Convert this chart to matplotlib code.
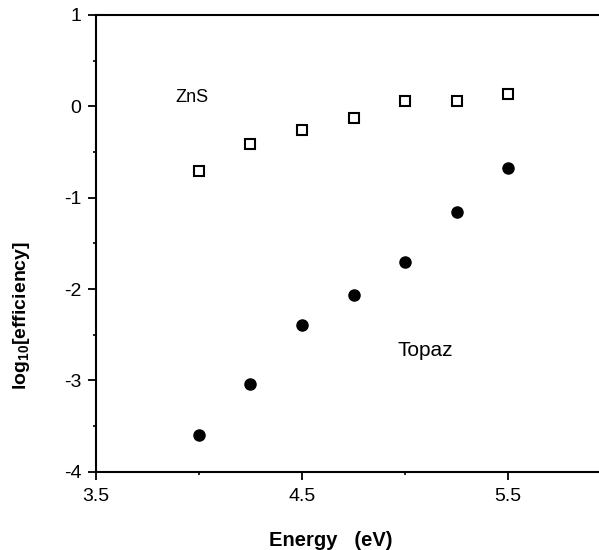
import numpy as np
import matplotlib
matplotlib.use("Agg")
import matplotlib.pyplot as plt
from matplotlib.ticker import MultipleLocator

plt.rcParams["font.family"] = ["Liberation Sans", "DejaVu Sans"]
plt.rcParams["axes.unicode_minus"] = False
plt.rcParams["mathtext.fontset"] = "custom"
plt.rcParams["mathtext.rm"] = "Liberation Sans"
plt.rcParams["mathtext.bf"] = "Liberation Sans:bold"

# ---- data ----
energy = [4.0, 4.25, 4.5, 4.75, 5.0, 5.25, 5.5]
zns = [-0.71, -0.41, -0.26, -0.13, 0.06, 0.06, 0.13]
topaz = [-3.60, -3.04, -2.39, -2.06, -1.70, -1.16, -0.67]

x_major = [3.5, 4.5, 5.5]
x_minor = [4.0, 5.0]
y_major = [-4, -3, -2, -1, 0, 1]

fig = plt.figure(figsize=(5.99, 5.5), dpi=100)
ax = fig.add_axes([0.160, 0.142, 0.840, 0.831])

ax.plot(energy, zns, linestyle="none", marker="s", markersize=7.5,
        markerfacecolor="white", markeredgecolor="black", markeredgewidth=1.5)
ax.plot(energy, topaz, linestyle="none", marker="o", markersize=8,
        color="black")

ax.text(3.885, 0.10, "ZnS", fontsize=13, ha="left", va="center")
ax.text(4.965, -2.67, "Topaz", fontsize=15, ha="left", va="center")

ax.set_xlim(3.5, 5.94)
ax.set_ylim(-4, 1)
ax.set_xticks(x_major)
ax.set_xticklabels([str(v) for v in x_major])
ax.set_xticks(x_minor, minor=True)
ax.set_yticks(y_major)
ax.set_yticklabels([str(v) for v in y_major])
ax.yaxis.set_minor_locator(MultipleLocator(0.5))

ax.tick_params(which="major", direction="out", length=5.5, width=1.3,
               labelsize=14, pad=5)
ax.tick_params(which="minor", direction="out", length=2.5, width=1.2)
ax.tick_params(axis="x", pad=6)

for side in ["left", "bottom", "top"]:
    ax.spines[side].set_linewidth(1.5)
ax.spines["right"].set_visible(False)

fig.text(331 / 599, 1 - 540 / 550, "Energy   (eV)", fontsize=14.5,
         fontweight="bold", ha="center", va="center")
fig.text(22 / 599, 1 - 316 / 550, r"log$_{\mathbf{10}}$[efficiency]",
         fontsize=14, fontweight="bold", rotation=90,
         ha="center", va="center")

fig.savefig("out.png", dpi=100)
